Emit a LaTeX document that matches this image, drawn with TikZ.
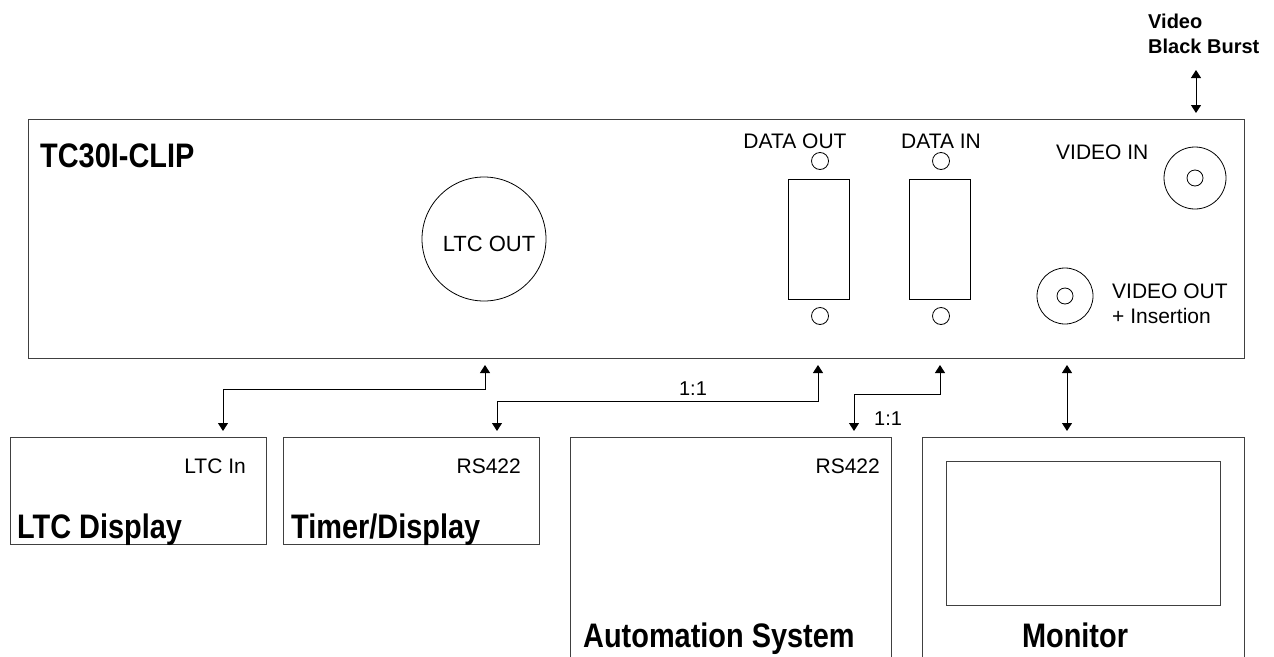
\documentclass[tikz,border=0pt]{standalone}
\usepackage{fontspec}
\setmainfont{Liberation Sans}
\newfontfamily\condfont[FakeStretch=0.85]{Liberation Sans}
\usetikzlibrary{arrows.meta}
\begin{document}
\begin{tikzpicture}[x=1pt,y=-1pt,
  boxline/.style={draw=black!75,line width=1pt},
  part/.style={draw=black,line width=0.8pt},
  conn/.style={draw=black,line width=1pt,{Triangle[width=10pt,length=8pt]}-{Triangle[width=10pt,length=8pt]}},
  lab/.style={inner sep=0pt,font=\fontsize{21}{25}\selectfont},
  small/.style={inner sep=0pt,font=\fontsize{20}{24}\selectfont},
  title/.style={inner sep=0pt,font=\condfont\bfseries\fontsize{34}{40}\selectfont},
  vlab/.style={inner sep=0pt,font=\bfseries\fontsize{20}{25}\selectfont,align=left}]
\path[use as bounding box,clip] (0,0) rectangle (1274,656);

% main unit
\node[boxline,minimum width=1216pt,minimum height=239pt,inner sep=0pt] (main) at (636,238.5) {};
\node[title,anchor=base west] (tname) at (40,167) {TC30I-CLIP};

% LTC OUT
\node[part,circle,minimum size=124pt,inner sep=0pt] (ltcout) at (484,239) {};
\node[lab,anchor=base,font=\fontsize{22}{26}\selectfont] (ltcoutlab) at (489,251) {LTC OUT};

% DATA OUT
\node[lab,anchor=base] (dolab) at (795,148) {DATA OUT};
\node[part,circle,minimum size=17pt,inner sep=0pt] (doc1) at (820,161) {};
\node[part,minimum width=61pt,minimum height=120pt,inner sep=0pt] (dorect) at (818.5,239) {};
\node[part,circle,minimum size=17pt,inner sep=0pt] (doc2) at (820,316) {};

% DATA IN
\node[lab,anchor=base] (dilab) at (941,148) {DATA IN};
\node[part,circle,minimum size=17pt,inner sep=0pt] (dic1) at (941,161) {};
\node[part,minimum width=61pt,minimum height=120pt,inner sep=0pt] (direct) at (939.5,239) {};
\node[part,circle,minimum size=17pt,inner sep=0pt] (dic2) at (941,316) {};

% VIDEO IN
\node[lab,anchor=base west] (vilab) at (1056,159) {VIDEO IN};
\node[part,circle,minimum size=62pt,inner sep=0pt] (vio) at (1195,178) {};
\node[part,circle,minimum size=16pt,inner sep=0pt] (vii) at (1195,178) {};

% VIDEO OUT
\node[part,circle,minimum size=56pt,inner sep=0pt] (voo) at (1065,296) {};
\node[part,circle,minimum size=16pt,inner sep=0pt] (voi) at (1065,296) {};
\node[lab,anchor=base west] (volab) at (1112,298) {VIDEO OUT};
\node[lab,anchor=base west] (volab2) at (1112,323) {+ Insertion};

% Video Black Burst
\node[vlab,anchor=base west] (vbb1) at (1148,28) {Video};
\node[vlab,anchor=base west] (vbb2) at (1148,53) {Black Burst};
\coordinate (vbbtop) at (1196,70);
\coordinate (vbbbot) at (1196,113);
\draw[conn] (vbbtop) -- (vbbbot);

% LTC Display
\node[boxline,minimum width=256pt,minimum height=107pt,inner sep=0pt] (ltcd) at (138,490.5) {};
\node[lab,anchor=base east] (ltcin) at (246,473) {LTC In};
\node[title,anchor=base west] (ltcdname) at (17,538) {LTC Display};

% Timer/Display
\node[boxline,minimum width=256pt,minimum height=107pt,inner sep=0pt] (timer) at (411,490.5) {};
\node[lab,anchor=base east] (timerrs) at (521,473) {RS422};
\node[title,anchor=base west] (timername) at (291,538) {Timer/Display};

% Automation System
\draw[boxline] (570,700) -- (570,437) -- (891,437) -- (891,700);
\node[inner sep=0pt,minimum width=321pt,minimum height=263pt] (auto) at (730.5,568.5) {};
\node[lab,anchor=base east] (autors) at (880,473) {RS422};
\node[title,anchor=base west] (autoname) at (583,647) {Automation System};

% Monitor
\draw[boxline] (922,700) -- (922,437) -- (1244,437) -- (1244,700);
\node[inner sep=0pt,minimum width=322pt,minimum height=263pt] (mon) at (1083,568.5) {};
\node[boxline,minimum width=274pt,minimum height=144pt,inner sep=0pt] (screen) at (1083,533) {};
\node[title,anchor=base] (monname) at (1075,647) {Monitor};

% connectors
\coordinate (c1a) at (485,365);
\coordinate (c1b) at (223,431);
\draw[conn] (c1a) -- (485,389) -- (223,389) -- (c1b);

\coordinate (c2a) at (818,365);
\coordinate (c2b) at (497,431);
\draw[conn] (c2a) -- (818,401) -- (497,401) -- (c2b);
\node[small,anchor=base] (r1) at (693,395) {1:1};

\coordinate (c3a) at (940,365);
\coordinate (c3b) at (854,431);
\draw[conn] (c3a) -- (940,394) -- (854,394) -- (c3b);
\node[small,anchor=base west] (r2) at (874,425) {1:1};

\coordinate (c4a) at (1067,365);
\coordinate (c4b) at (1067,431);
\draw[conn] (c4a) -- (c4b);
\end{tikzpicture}
\end{document}
